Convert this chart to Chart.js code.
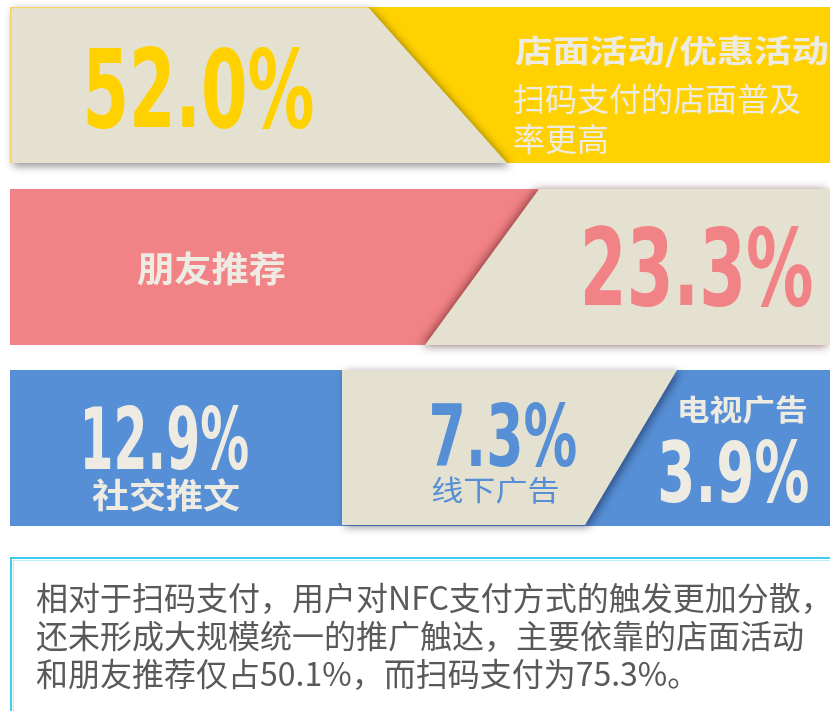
<!DOCTYPE html>
<html><head><meta charset="utf-8">
<script src="https://cdn.jsdelivr.net/npm/chart.js@4/dist/chart.umd.min.js"></script>
<style>html,body{margin:0;padding:0;background:#fff;}#wrap{width:830px;height:711px;}</style>
</head><body><div id="wrap"><canvas id="c" width="830" height="711"></canvas></div>
<script>
// ---- data ----
const categories = ['店面活动/优惠活动', '朋友推荐', '社交推文', '线下广告', '电视广告'];
const shares = [52.0, 23.3, 12.9, 7.3, 3.9];
const noteLines = ['扫码支付的店面普及', '率更高'];
const summaryLines = [
  '相对于扫码支付，用户对NFC支付方式的触发更加分散，',
  '还未形成大规模统一的推广触达，主要依靠的店面活动',
  '和朋友推荐仅占50.1%，而扫码支付为75.3%。'
];

const C = {beige:'#E4E1D1', yellow:'#FFD100', pink:'#F18285', blue:'#568FD5', light:'#EEEBE2', text:'#595959', border:'#3DCBEF'};
const NUM_FONT = 'bold 100px "DejaVu Sans Condensed", "DejaVu Sans", "Liberation Sans Narrow", sans-serif';
const CJK_B = 'bold 40px "Noto Sans CJK SC", sans-serif';
const CJK_R = '40px "Noto Sans CJK SC", sans-serif';
const pct = v => v.toFixed(1) + '%';

const infographic = {
  id: 'infographic',
  beforeDatasetsDraw(chart) {
    const ctx = chart.ctx, sx = chart.scales.x, sy = chart.scales.y;
    const X = v => sx.getPixelForValue(v), Y = v => sy.getPixelForValue(v);
    function poly(pts, fill, sh) {
      ctx.save();
      if (sh) { ctx.shadowColor = sh.c; ctx.shadowBlur = sh.b; ctx.shadowOffsetX = sh.x; ctx.shadowOffsetY = sh.y; }
      ctx.beginPath();
      pts.forEach((p, i) => i ? ctx.lineTo(X(p[0]), Y(p[1])) : ctx.moveTo(X(p[0]), Y(p[1])));
      ctx.closePath(); ctx.fillStyle = fill; ctx.fill(); ctx.restore();
    }
    function fit(text, font, x0, y0, x1, y1, color) {
      ctx.save(); ctx.font = font; ctx.textAlign = 'left'; ctx.textBaseline = 'alphabetic';
      const m = ctx.measureText(text);
      const w = m.actualBoundingBoxLeft + m.actualBoundingBoxRight;
      const h = m.actualBoundingBoxAscent + m.actualBoundingBoxDescent;
      const px0 = X(x0), py0 = Y(y0);
      ctx.translate(px0, py0); ctx.scale((X(x1) - px0) / w, (Y(y1) - py0) / h);
      ctx.fillStyle = color; ctx.fillText(text, m.actualBoundingBoxLeft, m.actualBoundingBoxAscent);
      ctx.restore();
    }
    function txt(text, font, x, y, color, align) {
      ctx.save(); ctx.font = font; ctx.fillStyle = color; ctx.textAlign = align || 'left'; ctx.textBaseline = 'middle';
      ctx.fillText(text, X(x), Y(y)); ctx.restore();
    }
    // band 1
    poly([[368,7],[830,7],[830,163],[368,163]], C.yellow);
    poly([[10,7],[368,7],[507,163],[10,163]], C.beige, {c:'rgba(0,0,0,0.45)', b:9, x:3, y:3});
    ctx.save(); ctx.fillStyle = '#F3D36A'; ctx.fillRect(X(10), Y(7), 1.5, Y(163)-Y(7)); ctx.fillRect(X(10), Y(7), X(368)-X(10), 1.2); ctx.restore();
    fit(pct(shares[0]), NUM_FONT, 87, 45, 313, 128, C.yellow);
    fit(categories[0], CJK_B, 515, 35, 828, 68, C.light);
    txt(noteLines[0], '32px "Noto Sans CJK SC", sans-serif', 513, 99, C.light);
    txt(noteLines[1], '32px "Noto Sans CJK SC", sans-serif', 513, 139, C.light);
    // band 2
    poly([[10,189],[830,189],[830,345],[10,345]], C.pink);
    poly([[539,189],[830,189],[830,345],[425,345]], C.beige, {c:'rgba(60,0,0,0.55)', b:10, x:-3, y:1});
    fit(pct(shares[1]), NUM_FONT, 585, 225, 812, 306, C.pink);
    fit(categories[1], CJK_B, 137, 251, 285, 286, C.light);
    // band 3
    poly([[10,370],[830,370],[830,526],[10,526]], C.blue);
    poly([[342,370],[677,370],[585,525],[342,525]], C.beige, {c:'rgba(0,0,40,0.45)', b:9, x:3, y:2});
    fit(pct(shares[2]), NUM_FONT, 85, 405, 248, 470, C.light);
    fit(categories[2], CJK_B, 92, 478, 240, 512, C.light);
    fit(pct(shares[3]), NUM_FONT, 432, 402, 576, 467, C.blue);
    fit(categories[3], CJK_R, 432, 477, 558, 505, C.blue);
    fit(categories[4], CJK_B, 680, 396, 806, 425, C.light);
    fit(pct(shares[4]), NUM_FONT, 661, 440, 808, 503, C.light);
    // summary box
    ctx.save(); ctx.strokeStyle = C.border; ctx.lineWidth = 2;
    ctx.strokeRect(X(11), Y(558), X(845) - X(11), Y(720) - Y(558));
    ctx.strokeStyle = 'rgba(61,203,239,0.35)'; ctx.lineWidth = 1;
    ctx.strokeRect(X(13.5), Y(560.5), X(845) - X(13.5), Y(720) - Y(560.5));
    ctx.restore();
    const ys = [598, 636, 674];
    summaryLines.forEach((l, i) => txt(l, '32px "Noto Sans CJK SC", sans-serif', 36, ys[i], C.text));
  }
};

new Chart(document.getElementById('c'), {
  type: 'scatter',
  data: { labels: categories, datasets: [{ data: shares.map(() => ({x: -100, y: -100})), pointRadius: 0 }] },
  options: {
    responsive: false, animation: false, devicePixelRatio: 1,
    layout: { padding: 0 },
    plugins: { legend: { display: false }, tooltip: { enabled: false } },
    scales: {
      x: { type: 'linear', min: 0, max: 830, display: false },
      y: { type: 'linear', min: 0, max: 711, reverse: true, display: false }
    }
  },
  plugins: [infographic]
});
</script></body></html>
